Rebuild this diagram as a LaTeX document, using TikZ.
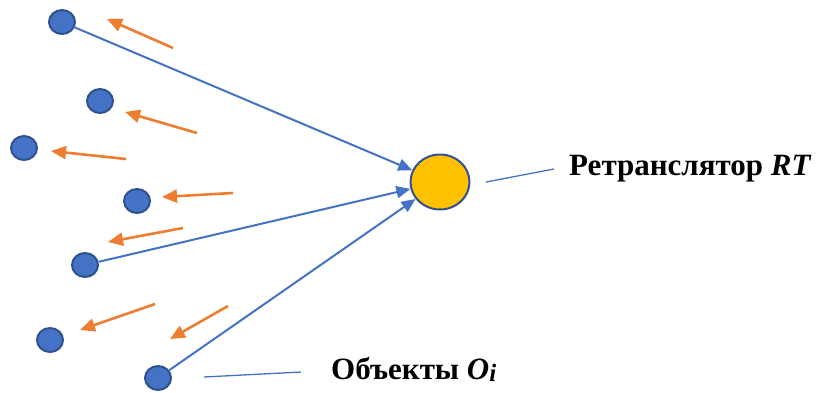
\documentclass[tikz,border=0pt]{standalone}
\usepackage{fontspec}
\setmainfont{Liberation Serif}
\usetikzlibrary{arrows.meta,shapes.geometric}
\definecolor{objblue}{HTML}{4472C4}
\definecolor{objedge}{HTML}{2F528F}
\definecolor{sigorange}{HTML}{ED7D31}
\definecolor{rtyellow}{HTML}{FFC000}
\tikzset{
  obj/.style={ellipse, draw=objedge, fill=objblue, line width=2pt, minimum width=26pt, minimum height=24pt, inner sep=0pt},
  relay/.style={ellipse, draw=objedge, fill=rtyellow, line width=2pt, minimum width=59pt, minimum height=55pt, inner sep=0pt},
  link/.style={draw=objblue, line width=2pt, -{Triangle[length=14pt,width=12pt]}},
  sig/.style={draw=sigorange, line width=2.6pt, -{Triangle[length=15pt,width=13pt]}},
  lead/.style={draw=objblue, line width=1.3pt},
  lbl/.style={font=\fontsize{31}{36}\selectfont\bfseries, inner sep=0pt, anchor=base west}
}
\begin{document}
\begin{tikzpicture}[x=1pt,y=-1pt]
\useasboundingbox (0,0) rectangle (822,392);
\node[obj] (o1) at (62,22) {};
\node[obj] (o2) at (100,101) {};
\node[obj] (o3) at (24,148) {};
\node[obj] (o4) at (137,201) {};
\node[obj] (o5) at (85,265) {};
\node[obj] (o6) at (50,340) {};
\node[obj] (o7) at (158,378) {};
\node[relay] (rt) at (440,182) {};
\draw[link] (o1) -- (rt);
\draw[link] (o5) -- (rt);
\draw[link] (o7) -- (rt);
\coordinate (s1a) at (173,48); \coordinate (s1b) at (107,19);
\coordinate (s2a) at (197,133); \coordinate (s2b) at (125,112);
\coordinate (s3a) at (126,159); \coordinate (s3b) at (51,151);
\coordinate (s4a) at (233,193); \coordinate (s4b) at (162,197);
\coordinate (s5a) at (183,228); \coordinate (s5b) at (108,242);
\coordinate (s6a) at (155,304); \coordinate (s6b) at (80,330);
\coordinate (s7a) at (228,306); \coordinate (s7b) at (170,339);
\foreach \i in {1,...,7} { \draw[sig] (s\i a) -- (s\i b); }
\node[lbl] (rtl) at (569,175) {Ретранслятор \textit{RT}};
\node[lbl] (objl) at (331,379) {Объекты \textit{O}\raisebox{-2pt}{\fontsize{25}{30}\selectfont\textit{i}}};
\coordinate (l1a) at (486,182); \coordinate (l1b) at (554,169);
\coordinate (l2a) at (204,377); \coordinate (l2b) at (301,372);
\draw[lead] (l1a) -- (l1b);
\draw[lead] (l2a) -- (l2b);
\end{tikzpicture}
\end{document}
